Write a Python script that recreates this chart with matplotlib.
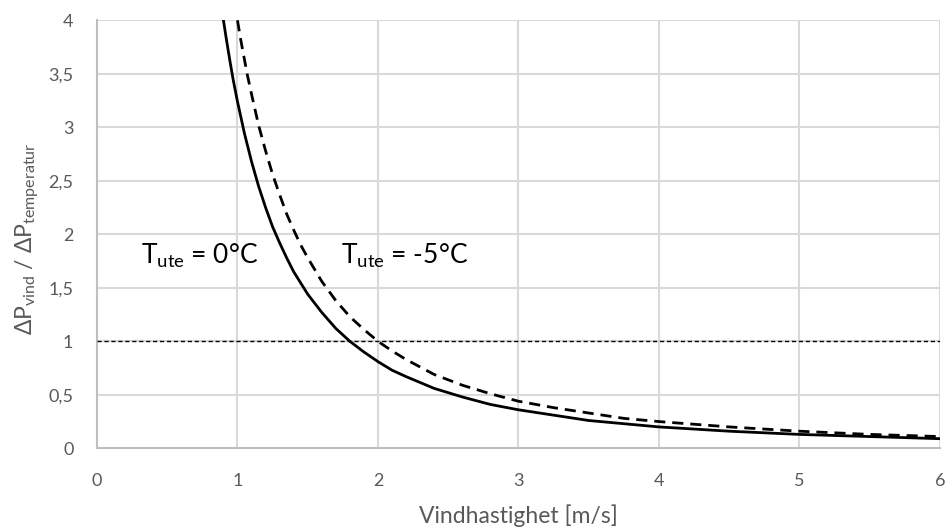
import matplotlib
matplotlib.use('Agg')
import matplotlib.pyplot as plt

# Data
v_0 = [0.90, 0.92, 0.95, 0.97, 1.00, 1.05, 1.10, 1.15, 1.20, 1.25, 1.30, 1.35, 1.40,
       1.50, 1.60, 1.70, 1.80, 1.90, 2.00, 2.10, 2.20, 2.40, 2.60, 2.80, 3.00,
       3.25, 3.50, 3.75, 4.00, 4.50, 5.00, 5.50, 6.00]
ratio_0 = [4.00, 3.83, 3.59, 3.44, 3.24, 2.94, 2.68, 2.45, 2.25, 2.07, 1.92, 1.78, 1.65,
           1.44, 1.27, 1.12, 1.00, 0.90, 0.81, 0.73, 0.67, 0.56, 0.48, 0.41, 0.36,
           0.31, 0.26, 0.23, 0.20, 0.16, 0.13, 0.11, 0.09]

v_5 = [1.00, 1.02, 1.05, 1.07, 1.10, 1.15, 1.20, 1.25, 1.30, 1.35, 1.40, 1.45,
       1.50, 1.60, 1.70, 1.80, 1.90, 2.00, 2.10, 2.20, 2.40, 2.60, 2.80, 3.00,
       3.25, 3.50, 3.75, 4.00, 4.50, 5.00, 5.50, 6.00]
ratio_5 = [4.00, 3.84, 3.63, 3.49, 3.31, 3.02, 2.78, 2.56, 2.37, 2.19, 2.04, 1.90,
           1.78, 1.56, 1.38, 1.23, 1.11, 1.00, 0.91, 0.83, 0.69, 0.59, 0.51, 0.44,
           0.38, 0.33, 0.28, 0.25, 0.20, 0.16, 0.13, 0.11]

x_ticks = [0, 1, 2, 3, 4, 5, 6]
y_ticks = [0, 0.5, 1, 1.5, 2, 2.5, 3, 3.5, 4]
y_labels = ['0', '0,5', '1', '1,5', '2', '2,5', '3', '3,5', '4']
ref_level = 1

plt.rcParams['font.family'] = ['Lato', 'DejaVu Sans']
plt.rcParams['mathtext.fontset'] = 'custom'
plt.rcParams['mathtext.rm'] = 'Lato'
plt.rcParams['mathtext.it'] = 'Lato'

grey = '#595959'

fig = plt.figure(figsize=(9.49, 5.31), dpi=100)
ax = fig.add_axes([0.1022, 0.1557, 0.8883, 0.8061])

ax.plot(v_0, ratio_0, color='black', lw=2, zorder=3)
ax.plot(v_5, ratio_5, color='black', lw=2, dashes=(4, 2.5), zorder=3)
ax.axhline(ref_level, color='black', lw=1, dashes=(3, 2), zorder=3)

ax.set_xlim(0, 6)
ax.set_ylim(0, 4)
ax.set_xticks(x_ticks)
ax.set_yticks(y_ticks)
ax.set_yticklabels(y_labels)
ax.tick_params(length=0, labelsize=13, labelcolor=grey)
ax.tick_params(axis='x', pad=18)
ax.tick_params(axis='y', pad=17)
ax.grid(True, color='#d9d9d9', lw=1.5)
ax.set_axisbelow(True)
for s in ['top', 'right']:
    ax.spines[s].set_visible(False)
for s in ['left', 'bottom']:
    ax.spines[s].set_color('#bfbfbf')
    ax.spines[s].set_linewidth(1.5)

ax.set_xlabel('Vindhastighet [m/s]', fontsize=16.5, color=grey)
ax.xaxis.set_label_coords(0.5, -0.13)
ax.set_ylabel(r'ΔP$_{\mathregular{vind}}$ / ΔP$_{\mathregular{temperatur}}$',
              fontsize=16.5, color=grey)
ax.yaxis.set_label_coords(-0.066, 0.49)

ax.text(0.31, 1.72, r'T$_{\mathregular{ute}}$ = 0°C', fontsize=19, color='black')
ax.text(1.74, 1.72, r'T$_{\mathregular{ute}}$ = -5°C', fontsize=19, color='black')

fig.savefig('out.png', dpi=100)
